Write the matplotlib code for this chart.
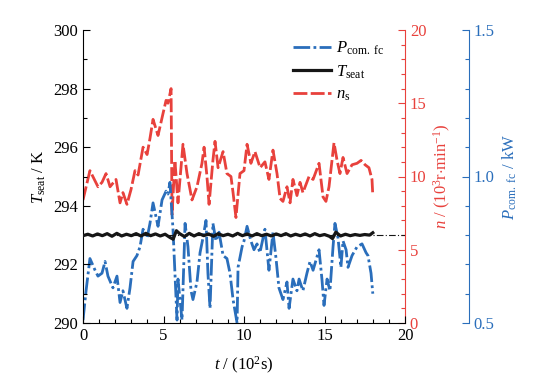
import numpy as np
import matplotlib
matplotlib.use("Agg")
import matplotlib.pyplot as plt

# --- Data ---
# n_s, 10^3 r/min
t_n = [0.0, 0.43, 0.93, 1.18, 1.43, 1.68, 2.05, 2.30, 2.48, 2.73, 2.98, 3.23, 3.42,
       3.73, 3.98, 4.16, 4.35, 4.66, 4.97, 5.16, 5.28, 5.47, 5.53, 5.71, 5.90, 6.21,
       6.46, 6.77, 7.08, 7.39, 7.52, 7.70, 7.83, 8.07, 8.20, 8.39, 8.70, 8.94, 9.19,
       9.32, 9.50, 9.75, 10.0, 10.19, 10.43, 10.68, 11.0, 11.3, 11.55, 11.8, 12.05,
       12.24, 12.42, 12.67, 12.86, 13.04, 13.29, 13.48, 13.66, 14.04, 14.29, 14.66,
       14.91, 15.09, 15.28, 15.59, 15.78, 15.96, 16.15, 16.4, 16.71, 17.02, 17.27,
       17.52, 17.76, 17.95, 18.0]
n_s = [8.4, 10.4, 9.3, 9.6, 10.2, 9.3, 9.8, 8.2, 8.9, 8.1, 9.1, 10.4, 10.1,
       12.0, 11.5, 12.6, 13.9, 12.8, 14.3, 15.2, 15.0, 16.0, 7.4, 11.1, 8.2, 12.2,
       10.2, 8.4, 9.3, 10.9, 12.0, 10.0, 8.1, 11.1, 12.4, 10.6, 11.7, 10.2, 10.0,
       8.9, 7.2, 10.2, 10.4, 12.2, 10.9, 11.7, 10.6, 11.0, 9.8, 11.8, 10.2,
       8.5, 8.3, 9.3, 8.2, 9.8, 8.7, 9.6, 8.9, 10.0, 9.8, 10.9,
       8.6, 8.3, 9.3, 12.3, 11.1, 10.2, 11.3, 10.2, 10.8, 10.9, 11.1,
       10.8, 10.6, 9.8, 8.7]

# P_com.fc, kW
t_p = [0.0, 0.19, 0.43, 0.75, 0.93, 1.18, 1.37, 1.55, 1.86, 2.11, 2.30, 2.48, 2.73,
       2.92, 3.11, 3.35, 3.54, 3.73, 3.98, 4.16, 4.35, 4.66, 4.91, 5.16, 5.28, 5.40,
       5.59, 5.84, 5.90, 6.15, 6.34, 6.52, 6.71, 6.83, 7.08, 7.27, 7.45, 7.64, 7.76,
       7.89, 8.07, 8.26, 8.45, 8.70, 8.94, 9.13, 9.32, 9.57, 9.63, 9.88, 10.0, 10.19,
       10.43, 10.62, 10.81, 10.99, 11.30, 11.55, 11.80, 11.99, 12.17, 12.42, 12.67,
       12.80, 13.04, 13.29, 13.42, 13.66, 13.91, 14.10, 14.29, 14.66, 14.84, 14.97,
       15.16, 15.34, 15.53, 15.65, 15.84, 16.02, 16.15, 16.34, 16.46, 16.71, 17.02,
       17.33, 17.58, 17.70, 17.89, 18.0]
p_fc = [0.51, 0.61, 0.72, 0.68, 0.66, 0.67, 0.71, 0.66, 0.62, 0.66, 0.57, 0.61, 0.55,
        0.62, 0.71, 0.73, 0.76, 0.82, 0.79, 0.84, 0.91, 0.83, 0.92, 0.95, 0.94, 0.98,
        0.82, 0.51, 0.65, 0.51, 0.84, 0.76, 0.61, 0.58, 0.64, 0.74, 0.79, 0.85, 0.67,
        0.55, 0.84, 0.78, 0.81, 0.73, 0.72, 0.67, 0.58, 0.50, 0.69, 0.76, 0.78, 0.83,
        0.78, 0.75, 0.77, 0.74, 0.82, 0.68, 0.81, 0.72, 0.62, 0.58, 0.64,
        0.55, 0.65, 0.61, 0.65, 0.61, 0.67, 0.71, 0.68, 0.75, 0.65, 0.56,
        0.65, 0.61, 0.76, 0.84, 0.79, 0.69, 0.78, 0.75, 0.69, 0.73, 0.76,
        0.77, 0.74, 0.73, 0.67, 0.60]

# T_seat, K
t_T = [0.0, 0.3, 0.6, 0.9, 1.2, 1.5, 1.8, 2.1, 2.4, 2.7, 3.0, 3.3, 3.6, 3.9, 4.2,
       4.5, 4.8, 5.1, 5.4, 5.6, 5.8, 6.0, 6.3, 6.6, 6.9, 7.2, 7.5, 7.8, 8.1, 8.4,
       8.7, 9.0, 9.3, 9.6, 9.9, 10.2, 10.5, 10.8, 11.1, 11.4, 11.7, 12.0, 12.3,
       12.6, 12.9, 13.2, 13.5, 13.8, 14.1, 14.4, 14.7, 15.0, 15.3, 15.5, 15.7,
       16.0, 16.3, 16.6, 16.9, 17.2, 17.5, 17.8, 18.0]
T_seat = [292.98, 293.03, 292.97, 293.04, 292.98, 293.05, 292.96, 293.06, 292.97,
          293.03, 292.98, 293.05, 292.97, 293.06, 292.98, 293.04, 292.97, 293.03,
          292.92, 292.86, 293.15, 293.05, 292.95, 293.06, 292.97, 293.05, 292.98,
          293.04, 292.96, 293.05, 292.98, 293.03, 292.97, 293.06, 292.98, 293.04,
          292.97, 293.05, 292.98, 293.03, 292.97, 293.04, 292.98, 293.05, 292.97,
          293.03, 292.98, 293.04, 292.97, 293.05, 292.98, 293.02, 292.96, 292.88,
          293.10, 292.97, 293.03, 292.98, 293.02, 292.99, 293.02, 293.00, 293.08]
T_ref = 293.0

RED = "#e8413c"
BLUE = "#2a6ebb"
BLACK = "#161616"

plt.rcParams['font.family'] = ['Liberation Serif', 'DejaVu Serif']
plt.rcParams['mathtext.fontset'] = 'custom'
plt.rcParams['mathtext.rm'] = 'Liberation Serif'
plt.rcParams['mathtext.it'] = 'Liberation Serif:italic'
plt.rcParams['font.size'] = 11

fig = plt.figure(figsize=(5.4, 3.81), dpi=100)
ax = fig.add_axes([83/540, 1 - 323/381, 322/540, 293/381])
ax_n = ax.twinx()
ax_p = ax.twinx()

# --- Lines ---
ax.axhline(T_ref, color=BLACK, lw=0.8, ls=(0, (6, 2, 1, 2)), zorder=1)
l_p, = ax_p.plot(t_p, p_fc, color=BLUE, lw=2.0, ls=(0, (6, 1.2, 1, 1.2)),
                 label=r'$P_{\rm com.\ fc}$')
l_n, = ax_n.plot(t_n, n_s, color=RED, lw=2.0, ls=(0, (5, 1.2)),
                 label=r'$n_{\rm s}$')
l_T, = ax.plot(t_T, T_seat, color=BLACK, lw=2.3, label=r'$T_{\rm seat}$', zorder=5)
ax.set_zorder(3)
ax.patch.set_visible(False)

# --- Left axis ---
ax.set_xlim(0, 20)
ax.set_ylim(290, 300)
ax.set_xticks([0, 5, 10, 15, 20])
ax.set_xticks(np.arange(0, 21, 1), minor=True)
ax.set_yticks([290, 292, 294, 296, 298, 300])
ax.set_yticks(np.arange(290, 301, 1), minor=True)
ax.tick_params(direction='in', which='major', length=5, width=0.8, labelsize=12)
ax.tick_params(direction='in', which='minor', length=3, width=0.8)
ax.spines['top'].set_visible(False)
ax.spines['right'].set_visible(False)
ax.set_xlabel(r'$t$ / (10$^2$s)', fontsize=12, labelpad=8)
ax.set_ylabel(r'$T_{\rm seat}$ / K', fontsize=12, labelpad=4)

# --- n axis ---
ax_n.set_ylim(0, 20)
ax_n.set_yticks([0, 5, 10, 15, 20])
ax_n.set_yticks(np.arange(0, 21, 1), minor=True)
ax_n.tick_params(axis='y', direction='in', which='major', length=5, width=0.8,
                 colors=RED, labelsize=12)
ax_n.tick_params(axis='y', direction='in', which='minor', length=3, width=0.8,
                 colors=RED)
for s in ['top', 'left', 'bottom']:
    ax_n.spines[s].set_visible(False)
ax_n.spines['right'].set_color(RED)
ax_n.set_ylabel(r'$n$ / (10$^3$r$\cdot$min$^{-1}$)', color=RED, fontsize=12,
                labelpad=4)

# --- P axis ---
ax_p.set_ylim(0.5, 1.5)
ax_p.set_yticks([0.5, 1.0, 1.5])
ax_p.set_yticklabels(['0.5', '1.0', '1.5'])
ax_p.set_yticks(np.arange(0.5, 1.51, 0.1), minor=True)
ax_p.spines['right'].set_position(('axes', 386/322))
ax_p.tick_params(axis='y', direction='in', which='major', length=5, width=0.8,
                 colors=BLUE, labelsize=12)
ax_p.tick_params(axis='y', direction='in', which='minor', length=3, width=0.8,
                 colors=BLUE)
for s in ['top', 'left', 'bottom']:
    ax_p.spines[s].set_visible(False)
ax_p.spines['right'].set_color(BLUE)
ax_p.set_ylabel(r'$P_{\rm com.\ fc}$ / kW', color=BLUE, fontsize=12, labelpad=4)

# --- Legend ---
ax.legend(handles=[l_p, l_T, l_n], loc='upper left', bbox_to_anchor=(0.62, 1.0),
          frameon=False, fontsize=12, handlelength=2.3, handletextpad=0.3,
          labelspacing=0.35, borderaxespad=0.2)

fig.savefig("out.png", dpi=100)
